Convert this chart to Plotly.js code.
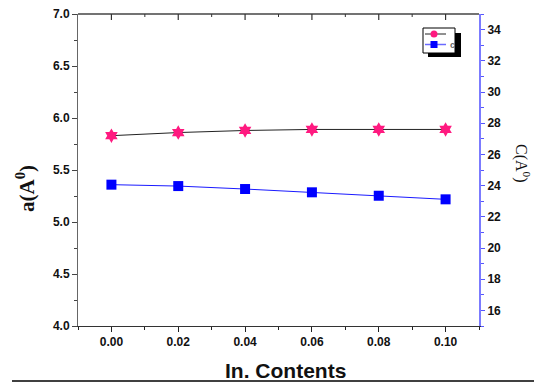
<!DOCTYPE html>
<html>
<head>
<meta charset="utf-8">
<script src="https://cdn.plot.ly/plotly-3.0.1.min.js"></script>
<style>
  html, body { margin: 0; padding: 0; background: #fff; }
  #chart { width: 534px; height: 382px; }
</style>
</head>
<body>
<div id="chart"></div>
<script>
// Indium content (x) and the two lattice parameters
const inContent = [0.00, 0.02, 0.04, 0.06, 0.08, 0.10];
const aValues   = [5.83, 5.86, 5.88, 5.89, 5.89, 5.89];        // a (Å), left axis
const cValues   = [24.06, 23.97, 23.78, 23.57, 23.35, 23.12];  // c (Å), right axis

const xTicks  = [0.00, 0.02, 0.04, 0.06, 0.08, 0.10];
const xLabels = ['0.00', '0.02', '0.04', '0.06', '0.08', '0.10'];
const seriesNames = ['', 'c'];

const aColor = '#ff1a80', cColor = '#0000ff';

// plot area in pixels, used to place the decorations in paper units
const M = { l: 78, r: 55, t: 14, b: 56 }, W = 534, H = 382;
const pw = W - M.l - M.r, ph = H - M.t - M.b;
const px = v => (v - M.l) / pw;
const py = v => (H - M.b - v) / ph;

const tickFont = { family: 'Liberation Sans, Arial, sans-serif', size: 12, color: '#111', weight: 'bold' };

const traces = [
  {
    x: inContent, y: aValues, name: seriesNames[0], xaxis: 'x', yaxis: 'y',
    mode: 'lines+markers',
    line: { color: '#222', width: 1 },
    marker: { symbol: 'hexagram', size: 11, color: aColor, line: { width: 0 } }
  },
  {
    x: inContent, y: cValues, name: seriesNames[1], xaxis: 'x', yaxis: 'y2',
    mode: 'lines+markers',
    line: { color: '#1a1aff', width: 1 },
    marker: { symbol: 'square', size: 10, color: cColor, line: { width: 0 } }
  }
];

// top frame: a line along the plot top with inward ticks at the x tick positions
const topFrame = [
  { type: 'line', xref: 'paper', yref: 'paper', x0: 0, x1: 1, y0: 1, y1: 1,
    layer: 'above', line: { color: '#444', width: 1.5 } }
];
xTicks.forEach((t, i) => {
  topFrame.push({ type: 'line', xref: 'x', yref: 'paper', x0: t, x1: t, y0: 1, y1: 1 - 6 / ph,
    layer: 'above', line: { color: '#333', width: 1.2 } });
  if (i < xTicks.length - 1) {
    const m = (t + xTicks[i + 1]) / 2;
    topFrame.push({ type: 'line', xref: 'x', yref: 'paper', x0: m, x1: m, y0: 1, y1: 1 - 3 / ph,
      layer: 'above', line: { color: '#333', width: 1 } });
  }
});

// hand-made legend box (two short samples with a drop shadow)
const lg = { x0: 423, x1: 455, y0: 28, y1: 53, row1: 34, row2: 44.5, sx0: 425, sx1: 446, mx: 434 };

const layout = {
  width: W, height: H,
  margin: M,
  paper_bgcolor: '#fff', plot_bgcolor: '#fff',
  showlegend: false,
  xaxis: {
    range: [-0.01, 0.11], tickvals: xTicks, ticktext: xLabels,
    showgrid: false, zeroline: false,
    showline: true, linecolor: '#333', linewidth: 1,
    ticks: 'outside', ticklen: 5, tickcolor: '#222', tickfont: tickFont,
    minor: { dtick: 0.01, tick0: 0, ticks: 'outside', ticklen: 3, tickcolor: '#222', showgrid: false }
  },
  yaxis: {
    range: [4.0, 7.0], dtick: 0.5, tickformat: '.1f',
    showgrid: false, zeroline: false,
    showline: true, linecolor: '#666', linewidth: 1,
    ticks: 'outside', ticklen: 5, tickcolor: '#444', tickfont: tickFont,
    minor: { dtick: 0.25, ticks: 'outside', ticklen: 3, tickcolor: '#444', showgrid: false }
  },
  yaxis2: {
    range: [15, 35], dtick: 2, tick0: 16, overlaying: 'y', side: 'right', anchor: 'x',
    showgrid: false, zeroline: false,
    showline: true, linecolor: '#7b7bff', linewidth: 2,
    ticks: 'outside', ticklen: 4, tickcolor: '#5555ff', tickfont: tickFont,
    minor: { dtick: 1, ticks: 'outside', ticklen: 3, tickcolor: '#5555ff', showgrid: false }
  },
  annotations: [
    {
      text: 'In. Contents', xref: 'paper', yref: 'paper',
      x: px(285), y: py(370), showarrow: false, xanchor: 'center', yanchor: 'middle',
      font: { family: 'Liberation Sans, Arial, sans-serif', size: 21, color: '#111', weight: 'bold' }
    },
    {
      text: 'a(A<sup>0</sup>)', xref: 'paper', yref: 'paper',
      x: px(25), y: py(188), showarrow: false, textangle: -90,
      xanchor: 'center', yanchor: 'middle',
      font: { family: 'Liberation Serif, Times New Roman, serif', size: 21, color: '#111', weight: 'bold' }
    },
    {
      text: 'C(A<sup>0</sup>)', xref: 'paper', yref: 'paper',
      x: px(523), y: py(163), showarrow: false, textangle: 90,
      xanchor: 'center', yanchor: 'middle',
      font: { family: 'Liberation Serif, Times New Roman, serif', size: 16, color: '#111' }
    },
    {
      text: seriesNames[1], xref: 'paper', yref: 'paper',
      x: px(448), y: py(lg.row2), showarrow: false, xanchor: 'left', yanchor: 'middle',
      font: { family: 'Liberation Sans, Arial, sans-serif', size: 9, color: '#666', weight: 'bold' }
    }
  ],
  shapes: topFrame.concat([
    // legend shadow and frame
    { type: 'rect', xref: 'paper', yref: 'paper',
      x0: px(lg.x0 + 5), x1: px(lg.x1 + 6), y0: py(lg.y1 + 4), y1: py(lg.y0 + 5),
      fillcolor: '#000', line: { width: 0 } },
    { type: 'rect', xref: 'paper', yref: 'paper',
      x0: px(lg.x0), x1: px(lg.x1), y0: py(lg.y1), y1: py(lg.y0),
      fillcolor: '#fff', line: { color: '#000', width: 1 } },
    // legend sample: a
    { type: 'line', xref: 'paper', yref: 'paper',
      x0: px(lg.sx0), x1: px(lg.sx1), y0: py(lg.row1), y1: py(lg.row1),
      line: { color: '#222', width: 1 } },
    { type: 'circle', xref: 'paper', yref: 'paper',
      x0: px(lg.mx - 3.5), x1: px(lg.mx + 3.5), y0: py(lg.row1 + 3.5), y1: py(lg.row1 - 3.5),
      fillcolor: aColor, line: { width: 0 } },
    // legend sample: c
    { type: 'line', xref: 'paper', yref: 'paper',
      x0: px(lg.sx0), x1: px(lg.sx1), y0: py(lg.row2), y1: py(lg.row2),
      line: { color: '#6a6aff', width: 1.5 } },
    { type: 'rect', xref: 'paper', yref: 'paper',
      x0: px(lg.mx - 3.5), x1: px(lg.mx + 3.5), y0: py(lg.row2 + 3.5), y1: py(lg.row2 - 3.5),
      fillcolor: cColor, line: { width: 0 } },
    // rule under the figure
    { type: 'line', xref: 'paper', yref: 'paper',
      x0: px(12), x1: px(534), y0: py(381), y1: py(381),
      line: { color: '#000', width: 1.5 } }
  ])
};

Plotly.newPlot('chart', traces, layout, { displayModeBar: false, staticPlot: true });
</script>
</body>
</html>
